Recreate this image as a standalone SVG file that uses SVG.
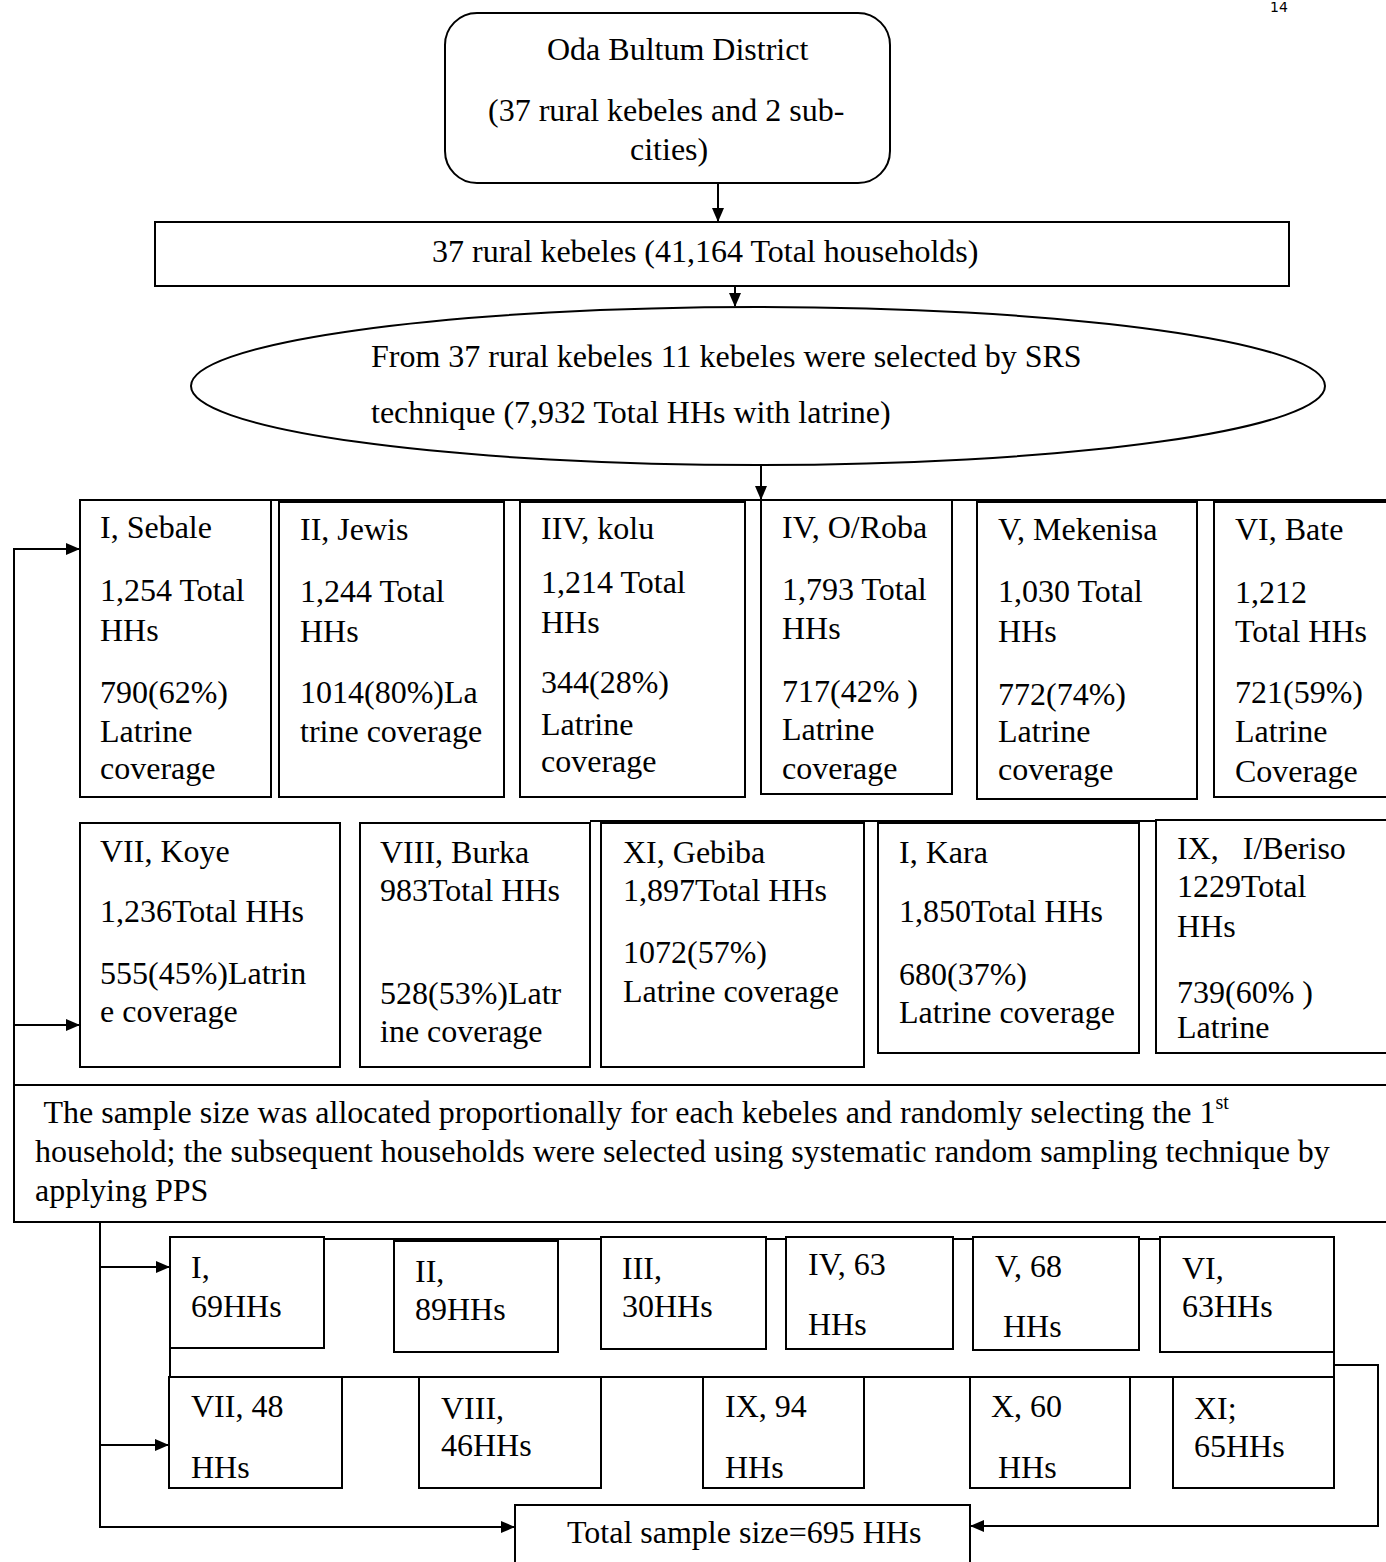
<svg xmlns="http://www.w3.org/2000/svg" width="1386" height="1562" viewBox="0 0 1386 1562">
<style>
text{font-family:"Liberation Serif","Times New Roman",serif;font-size:32px;fill:#000}
.b{fill:#fff;stroke:#000;stroke-width:2}
.l{fill:none;stroke:#000;stroke-width:2}
.pn{font-family:"DejaVu Sans",sans-serif;font-size:14px}
</style>
<defs>
<marker id="ah" markerWidth="14" markerHeight="12" refX="13" refY="6" orient="auto" markerUnits="userSpaceOnUse">
<path d="M0,0 L14,6 L0,12 Z" fill="#000"/>
</marker>
</defs>
<rect width="1386" height="1562" fill="#fff"/>
<text class="pn" x="1270" y="12">14</text>

<g id="connectors">
<line class="l" x1="718" y1="183" x2="718" y2="221" marker-end="url(#ah)"/>
<line class="l" x1="735" y1="286" x2="735" y2="306" marker-end="url(#ah)"/>
<line class="l" x1="761" y1="465" x2="761" y2="499" marker-end="url(#ah)"/>
<line class="l" x1="80" y1="500" x2="1386" y2="500"/>
<line class="l" x1="590" y1="821" x2="1386" y2="821"/>
<polyline class="l" points="14,1222 14,549 79,549" marker-end="url(#ah)"/>
<line class="l" x1="14" y1="1025" x2="79" y2="1025" marker-end="url(#ah)"/>
<polyline class="l" points="100,1222 100,1527 514,1527" marker-end="url(#ah)"/>
<line class="l" x1="100" y1="1267" x2="169" y2="1267" marker-end="url(#ah)"/>
<line class="l" x1="100" y1="1445" x2="168" y2="1445" marker-end="url(#ah)"/>
<polyline class="l" points="1334,1365 1378,1365 1378,1526 971,1526" marker-end="url(#ah)"/>
</g>

<g id="district">
<rect class="b" x="445" y="13" width="445" height="170" rx="32"/>
<text x="547" y="60">Oda Bultum District</text>
<text x="488" y="121">(37 rural kebeles and 2 sub-</text>
<text x="630" y="160">cities)</text>
</g>

<g id="rural">
<rect class="b" x="155" y="222" width="1134" height="64"/>
<text x="432" y="262">37 rural kebeles (41,164 Total households)</text>
</g>

<g id="selected">
<ellipse class="b" cx="758" cy="386" rx="567" ry="79"/>
<text x="371" y="367">From 37 rural kebeles 11 kebeles were selected by SRS</text>
<text x="371" y="423">technique (7,932 Total HHs with latrine)</text>
</g>

<g id="k-sebale">
<rect class="b" x="80" y="500" width="191" height="297"/>
<text x="100" y="538">I, Sebale</text>
<text x="100" y="601">1,254 Total</text>
<text x="100" y="641">HHs</text>
<text x="100" y="703">790(62%)</text>
<text x="100" y="742">Latrine</text>
<text x="100" y="779">coverage</text>
</g>
<g id="k-jewis">
<rect class="b" x="279" y="502" width="225" height="295"/>
<text x="300" y="540">II, Jewis</text>
<text x="300" y="602">1,244 Total</text>
<text x="300" y="642">HHs</text>
<text x="300" y="703">1014(80%)La</text>
<text x="300" y="742">trine coverage</text>
</g>
<g id="k-kolu">
<rect class="b" x="520" y="502" width="225" height="295"/>
<text x="541" y="539">IIV, kolu</text>
<text x="541" y="593">1,214 Total</text>
<text x="541" y="633">HHs</text>
<text x="541" y="693">344(28%)</text>
<text x="541" y="735">Latrine</text>
<text x="541" y="772">coverage</text>
</g>
<g id="k-oroba">
<rect class="b" x="761" y="500" width="191" height="294"/>
<text x="782" y="538">IV, O/Roba</text>
<text x="782" y="600">1,793 Total</text>
<text x="782" y="639">HHs</text>
<text x="782" y="702">717(42% )</text>
<text x="782" y="740">Latrine</text>
<text x="782" y="779">coverage</text>
</g>
<g id="k-mekenisa">
<rect class="b" x="977" y="502" width="220" height="297"/>
<text x="998" y="540">V, Mekenisa</text>
<text x="998" y="602">1,030 Total</text>
<text x="998" y="642">HHs</text>
<text x="998" y="705">772(74%)</text>
<text x="998" y="742">Latrine</text>
<text x="998" y="780">coverage</text>
</g>
<g id="k-bate">
<rect class="b" x="1214" y="502" width="190" height="295"/>
<text x="1235" y="540">VI, Bate</text>
<text x="1235" y="603">1,212</text>
<text x="1235" y="642">Total HHs</text>
<text x="1235" y="703">721(59%)</text>
<text x="1235" y="742">Latrine</text>
<text x="1235" y="782">Coverage</text>
</g>

<g id="k-koye">
<rect class="b" x="80" y="823" width="260" height="244"/>
<text x="100" y="862">VII, Koye</text>
<text x="100" y="922">1,236Total HHs</text>
<text x="100" y="984">555(45%)Latrin</text>
<text x="100" y="1022">e coverage</text>
</g>
<g id="k-burka">
<rect class="b" x="360" y="823" width="230" height="244"/>
<text x="380" y="863">VIII, Burka</text>
<text x="380" y="901">983Total HHs</text>
<text x="380" y="1004">528(53%)Latr</text>
<text x="380" y="1042">ine coverage</text>
</g>
<g id="k-gebiba">
<rect class="b" x="601" y="823" width="263" height="244"/>
<text x="623" y="863">XI, Gebiba</text>
<text x="623" y="901">1,897Total HHs</text>
<text x="623" y="963">1072(57%)</text>
<text x="623" y="1002">Latrine coverage</text>
</g>
<g id="k-kara">
<rect class="b" x="878" y="823" width="261" height="230"/>
<text x="899" y="863">I, Kara</text>
<text x="899" y="922">1,850Total HHs</text>
<text x="899" y="985">680(37%)</text>
<text x="899" y="1023">Latrine coverage</text>
</g>
<g id="k-beriso">
<rect class="b" x="1156" y="820" width="250" height="233"/>
<text x="1177" y="859" xml:space="preserve">IX,   I/Beriso</text>
<text x="1177" y="897">1229Total</text>
<text x="1177" y="937">HHs</text>
<text x="1177" y="1003">739(60% )</text>
<text x="1177" y="1038">Latrine</text>
</g>

<g id="allocation">
<rect class="b" x="14" y="1085" width="1392" height="137"/>
<text x="36" y="1123" xml:space="preserve"> The sample size was allocated proportionally for each kebeles and randomly selecting the 1<tspan font-size="20" dy="-14">st</tspan></text>
<text x="35" y="1162">household; the subsequent households were selected using systematic random sampling technique by</text>
<text x="35" y="1201">applying PPS</text>
</g>

<g id="frame">
<rect class="l" x="170" y="1239" width="1164" height="138"/>
</g>

<g id="s1">
<rect class="b" x="170" y="1237" width="154" height="111"/>
<text x="191" y="1278">I,</text>
<text x="191" y="1317">69HHs</text>
</g>
<g id="s2">
<rect class="b" x="394" y="1241" width="164" height="111"/>
<text x="415" y="1282">II,</text>
<text x="415" y="1320">89HHs</text>
</g>
<g id="s3">
<rect class="b" x="601" y="1237" width="165" height="112"/>
<text x="622" y="1279">III,</text>
<text x="622" y="1317">30HHs</text>
</g>
<g id="s4">
<rect class="b" x="786" y="1237" width="167" height="112"/>
<text x="808" y="1275">IV, 63</text>
<text x="808" y="1335">HHs</text>
</g>
<g id="s5">
<rect class="b" x="973" y="1237" width="166" height="113"/>
<text x="995" y="1277">V, 68</text>
<text x="1003" y="1337">HHs</text>
</g>
<g id="s6">
<rect class="b" x="1160" y="1237" width="174" height="115"/>
<text x="1182" y="1279">VI,</text>
<text x="1182" y="1317">63HHs</text>
</g>
<g id="s7">
<rect class="b" x="169" y="1377" width="173" height="111"/>
<text x="191" y="1417">VII, 48</text>
<text x="191" y="1478">HHs</text>
</g>
<g id="s8">
<rect class="b" x="419" y="1377" width="182" height="111"/>
<text x="441" y="1419">VIII,</text>
<text x="441" y="1456">46HHs</text>
</g>
<g id="s9">
<rect class="b" x="703" y="1377" width="161" height="111"/>
<text x="725" y="1417">IX, 94</text>
<text x="725" y="1478">HHs</text>
</g>
<g id="s10">
<rect class="b" x="970" y="1377" width="160" height="111"/>
<text x="991" y="1417">X, 60</text>
<text x="998" y="1478">HHs</text>
</g>
<g id="s11">
<rect class="b" x="1173" y="1377" width="161" height="111"/>
<text x="1194" y="1419">XI;</text>
<text x="1194" y="1457">65HHs</text>
</g>

<g id="total">
<rect class="b" x="515" y="1505" width="455" height="70"/>
<text x="567" y="1543">Total sample size=695 HHs</text>
</g>
</svg>
